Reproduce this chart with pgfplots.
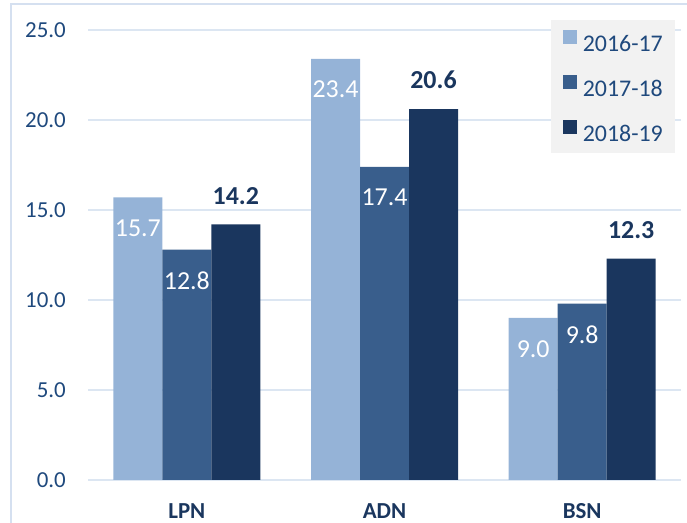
\documentclass[border=0pt]{standalone}
\usepackage{fontspec}
\setmainfont{Carlito}
\usepackage{pgfplots}
\pgfplotsset{compat=1.18}
\definecolor{c1}{HTML}{95B3D7}
\definecolor{c2}{HTML}{395E8C}
\definecolor{c3}{HTML}{1A365E}
\definecolor{txt}{HTML}{1F497D}
\definecolor{gridc}{HTML}{DCE6F2}
\definecolor{framec}{HTML}{D5E0F0}
\definecolor{legfill}{HTML}{F2F2F2}
\pgfplotsset{mylegimg/.style={legend image code/.code={\fill[##1] (0bp,0bp) rectangle (14bp,14bp);}}}
\begin{document}
\begin{tikzpicture}
\useasboundingbox (0,0) rectangle (687bp,523bp);
\node[anchor=base west, font=\fontsize{23}{28}\selectfont\bfseries, text=c3, inner sep=0pt] at (20bp,526bp) {Program Type, 2016-17 to 2018-19};
\draw[framec, line width=2bp] (11bp,0) -- (11bp,519bp) -- (687bp,519bp);
\begin{axis}[
  at={(88bp,43bp)}, anchor=south west,
  scale only axis, width=593bp, height=450bp,
  xmin=-0.5, xmax=2.5, ymin=0, ymax=25,
  ybar=0pt, bar width=49bp,
  axis line style={draw=none},
  ymajorgrids, major grid style={gridc, line width=1.5bp},
  major tick length=0pt,
  xtick={0,1,2}, xticklabels={LPN,ADN,BSN},
  xticklabel style={anchor=north, inner sep=0pt, yshift=-23bp, font=\fontsize{23}{27}\selectfont\bfseries, text=c3},
  ytick={0,5,...,25},
  yticklabel={\pgfmathprintnumber[fixed,zerofill,precision=1]{\tick}},
  yticklabel style={anchor=east, inner sep=0pt, xshift=-22bp, font=\fontsize{23}{27}\selectfont, text=txt},
  /pgf/number format/assume math mode=true,
  legend style={at={(1,1)}, anchor=north east, xshift=-6bp, yshift=10bp,
    fill=legfill, draw=none, font=\fontsize{24}{28}\selectfont, text=txt,
    inner xsep=12bp, inner ysep=10bp, row sep=22bp, column sep=6bp,
    nodes={inner sep=0pt}},
  legend cell align=left,
]
\addplot[fill=c1, draw=none, mylegimg,
  nodes near coords={\pgfmathprintnumber[fixed,zerofill,precision=1]{\pgfplotspointmeta}},
  every node near coord/.append style={anchor=north, inner sep=0pt, yshift=-22bp, text=white, font=\fontsize{26}{30}\selectfont}]
  coordinates {(0,15.7) (1,23.4) (2,9.0)};
\addplot[fill=c2, draw=none, mylegimg,
  nodes near coords={\pgfmathprintnumber[fixed,zerofill,precision=1]{\pgfplotspointmeta}},
  every node near coord/.append style={anchor=north, inner sep=0pt, yshift=-22bp, text=white, font=\fontsize{26}{30}\selectfont}]
  coordinates {(0,12.8) (1,17.4) (2,9.8)};
\addplot[fill=c3, draw=none, mylegimg,
  nodes near coords={\pgfmathprintnumber[fixed,zerofill,precision=1]{\pgfplotspointmeta}},
  every node near coord/.append style={anchor=south, inner sep=0pt, yshift=20bp, text=c3, font=\fontsize{26}{30}\selectfont\bfseries}]
  coordinates {(0,14.2) (1,20.6) (2,12.3)};
\legend{2016-17,2017-18,2018-19}
\end{axis}
\end{tikzpicture}
\end{document}
